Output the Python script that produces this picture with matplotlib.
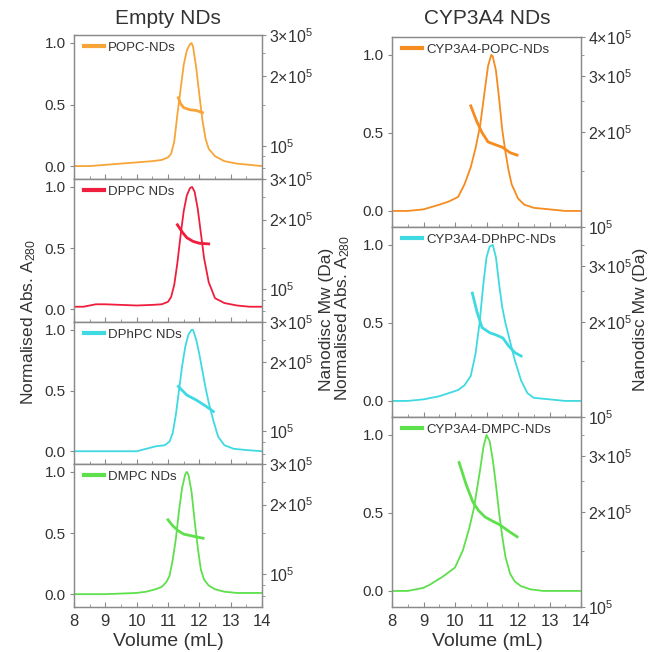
import matplotlib
matplotlib.use("Agg")
import matplotlib.pyplot as plt
from matplotlib.ticker import FixedLocator, FixedFormatter, NullFormatter, LogLocator, MultipleLocator

plt.rcParams["font.family"] = ["Liberation Sans", "DejaVu Sans"]
plt.rcParams["mathtext.fontset"] = "custom"
plt.rcParams["mathtext.rm"] = "Liberation Sans"
plt.rcParams["mathtext.it"] = "Liberation Sans:italic"

TEXT = "#333333"
SPINE = "#8a8a8a"

# Empty nanodiscs: normalised A280 traces and nanodisc Mw (Da)
popc_vol = [8.0, 8.5, 9.0, 9.5, 10.0, 10.5, 10.8, 11.0, 11.1, 11.2, 11.3, 11.4, 11.5,
            11.6, 11.7, 11.75, 11.8, 11.9, 12.0, 12.1, 12.2, 12.3, 12.5, 12.8, 13.2, 13.6, 14.0]
popc_abs = [0.0, 0.0, 0.01, 0.02, 0.03, 0.04, 0.05, 0.07, 0.1, 0.2, 0.42, 0.62, 0.82,
            0.94, 0.99, 1.0, 0.97, 0.8, 0.58, 0.37, 0.22, 0.14, 0.08, 0.04, 0.02, 0.01, 0.0]
popc_mw_vol = [11.33, 11.4, 11.5, 11.7, 11.9, 12.1]
popc_mw = [1.61e5, 1.52e5, 1.46e5, 1.43e5, 1.42e5, 1.39e5]

dppc_vol = [8.0, 8.3, 8.7, 9.0, 9.5, 10.0, 10.5, 10.8, 11.0, 11.1, 11.2, 11.3, 11.4, 11.5,
            11.6, 11.7, 11.77, 11.85, 11.95, 12.05, 12.15, 12.3, 12.5, 12.8, 13.2, 13.6, 14.0]
dppc_abs = [0.02, 0.02, 0.04, 0.04, 0.035, 0.03, 0.035, 0.04, 0.06, 0.1, 0.2, 0.38, 0.6, 0.8,
            0.93, 0.99, 1.0, 0.96, 0.82, 0.62, 0.42, 0.22, 0.09, 0.05, 0.03, 0.02, 0.02]
dppc_mw_vol = [11.3, 11.45, 11.6, 11.8, 12.0, 12.3]
dppc_mw = [1.9e5, 1.77e5, 1.67e5, 1.61e5, 1.58e5, 1.57e5]

dphpc_vol = [8.0, 9.0, 10.0, 10.3, 10.6, 10.9, 11.05, 11.15, 11.25, 11.35, 11.45, 11.55, 11.65,
             11.75, 11.8, 11.9, 12.0, 12.1, 12.2, 12.3, 12.45, 12.6, 12.8, 13.1, 13.5, 14.0]
dphpc_abs = [0.0, 0.0, 0.0, 0.02, 0.04, 0.05, 0.08, 0.15, 0.3, 0.5, 0.7, 0.86, 0.96,
             1.0, 1.0, 0.92, 0.8, 0.66, 0.52, 0.4, 0.25, 0.12, 0.05, 0.02, 0.01, 0.0]
dphpc_mw_vol = [11.33, 11.6, 11.9, 12.2, 12.45]
dphpc_mw = [1.57e5, 1.44e5, 1.37e5, 1.29e5, 1.22e5]

dmpc_vol = [8.0, 9.0, 10.0, 10.3, 10.6, 10.8, 10.95, 11.05, 11.15, 11.25, 11.35, 11.45, 11.55,
            11.6, 11.65, 11.75, 11.85, 11.95, 12.05, 12.15, 12.3, 12.5, 12.8, 13.2, 14.0]
dmpc_abs = [0.0, 0.0, 0.01, 0.02, 0.04, 0.06, 0.1, 0.15, 0.28, 0.45, 0.68, 0.87, 0.98,
            1.0, 0.98, 0.84, 0.6, 0.38, 0.2, 0.12, 0.07, 0.04, 0.02, 0.01, 0.01]
dmpc_mw_vol = [11.0, 11.15, 11.33, 11.5, 11.8, 12.12]
dmpc_mw = [1.72e5, 1.62e5, 1.54e5, 1.49e5, 1.46e5, 1.43e5]

# CYP3A4-loaded nanodiscs
cyp_popc_vol = [8.0, 8.5, 9.0, 9.5, 9.8, 10.1, 10.3, 10.5, 10.65, 10.8, 10.95, 11.05, 11.15,
                11.2, 11.3, 11.4, 11.5, 11.6, 11.7, 11.8, 12.0, 12.2, 12.5, 13.0, 13.5, 14.0]
cyp_popc_abs = [0.0, 0.0, 0.01, 0.04, 0.06, 0.09, 0.17, 0.28, 0.4, 0.55, 0.78, 0.93, 1.0,
                0.99, 0.9, 0.72, 0.52, 0.38, 0.26, 0.17, 0.08, 0.04, 0.02, 0.01, 0.0, 0.0]
cyp_popc_mw_vol = [10.5, 10.7, 10.86, 11.05, 11.3, 11.5, 11.75, 11.97]
cyp_popc_mw = [2.42e5, 2.15e5, 1.99e5, 1.86e5, 1.82e5, 1.79e5, 1.72e5, 1.69e5]

cyp_dphpc_vol = [8.0, 8.5, 9.0, 9.5, 9.8, 10.1, 10.3, 10.5, 10.65, 10.78, 10.9, 11.0, 11.1,
                 11.2, 11.3, 11.4, 11.5, 11.6, 11.75, 11.9, 12.1, 12.3, 12.5, 13.0, 13.5, 14.0]
cyp_dphpc_abs = [0.0, 0.0, 0.01, 0.03, 0.05, 0.07, 0.1, 0.16, 0.3, 0.5, 0.75, 0.92, 0.99,
                 1.0, 0.92, 0.75, 0.6, 0.5, 0.38, 0.26, 0.13, 0.05, 0.02, 0.01, 0.0, 0.0]
cyp_dphpc_mw_vol = [10.55, 10.7, 10.86, 11.1, 11.3, 11.52, 11.7, 11.9, 12.1]
cyp_dphpc_mw = [2.47e5, 2.15e5, 1.92e5, 1.85e5, 1.82e5, 1.78e5, 1.68e5, 1.6e5, 1.56e5]

cyp_dmpc_vol = [8.0, 8.5, 9.0, 9.2, 9.6, 10.0, 10.25, 10.45, 10.6, 10.8, 10.9, 11.0, 11.1,
                11.2, 11.3, 11.4, 11.5, 11.6, 11.75, 11.9, 12.1, 12.4, 12.8, 13.5, 14.0]
cyp_dmpc_abs = [0.0, 0.0, 0.02, 0.04, 0.09, 0.15, 0.26, 0.4, 0.53, 0.78, 0.92, 1.0, 0.96,
                0.84, 0.68, 0.5, 0.35, 0.22, 0.11, 0.06, 0.03, 0.01, 0.0, 0.0, 0.0]
cyp_dmpc_mw_vol = [10.13, 10.35, 10.57, 10.75, 10.95, 11.2, 11.43, 11.7, 11.97]
cyp_dmpc_mw = [2.87e5, 2.45e5, 2.15e5, 2.02e5, 1.93e5, 1.87e5, 1.82e5, 1.74e5, 1.67e5]

left_labels = ["POPC-NDs", "DPPC NDs", "DPhPC NDs", "DMPC NDs"]
right_labels = ["CYP3A4-POPC-NDs", "CYP3A4-DPhPC-NDs", "CYP3A4-DMPC-NDs"]

ORANGE_L = "#f7a538"
ORANGE_R = "#f68b1f"
RED = "#ee1e3c"
CYAN = "#3fd9e2"
GREEN = "#5ee04c"

left_panels = [
    (popc_vol, popc_abs, popc_mw_vol, popc_mw, ORANGE_L),
    (dppc_vol, dppc_abs, dppc_mw_vol, dppc_mw, RED),
    (dphpc_vol, dphpc_abs, dphpc_mw_vol, dphpc_mw, CYAN),
    (dmpc_vol, dmpc_abs, dmpc_mw_vol, dmpc_mw, GREEN),
]
right_panels = [
    (cyp_popc_vol, cyp_popc_abs, cyp_popc_mw_vol, cyp_popc_mw, ORANGE_R),
    (cyp_dphpc_vol, cyp_dphpc_abs, cyp_dphpc_mw_vol, cyp_dphpc_mw, CYAN),
    (cyp_dmpc_vol, cyp_dmpc_abs, cyp_dmpc_mw_vol, cyp_dmpc_mw, GREEN),
]

W, H = 654, 652
fig = plt.figure(figsize=(W / 100, H / 100), dpi=100)


def px_axes(x0, x1, y0, y1):
    """Add axes using pixel edges measured from the top-left corner."""
    return fig.add_axes([x0 / W, 1 - y1 / H, (x1 - x0) / W, (y1 - y0) / H])


def style_axes(ax, ax2, show_x):
    for a in (ax, ax2):
        for s in a.spines.values():
            s.set_color(SPINE)
            s.set_linewidth(0.9)
    ax.set_xlim(8, 14)
    ax.xaxis.set_major_locator(MultipleLocator(1))
    ax.xaxis.set_minor_locator(MultipleLocator(0.5))
    ax.tick_params(axis="x", which="both", direction="in", color=SPINE, top=False)
    ax.tick_params(axis="x", which="major", length=3.5, labelsize=12, labelcolor=TEXT, pad=5)
    ax.tick_params(axis="x", which="minor", length=2)
    if not show_x:
        ax.tick_params(axis="x", labelbottom=False)
    ax.set_yticks([0.0, 0.5, 1.0])
    ax.set_yticklabels(["0.0", "0.5", "1.0"])
    ax.tick_params(axis="y", direction="out", length=3, color=SPINE,
                   labelsize=11, labelcolor=TEXT, pad=3)
    ax2.tick_params(axis="y", which="major", direction="out", length=3, color=SPINE,
                    labelsize=11.5, labelcolor=TEXT, pad=2)
    ax2.tick_params(axis="y", which="minor", direction="out", length=1.8, color=SPINE)


def draw_panel(ax, panel, label, mw_lim, mw_ticks, mw_labels, show_x):
    vol, ab, mw_vol, mw, color = panel
    line, = ax.plot(vol, ab, color=color, lw=1.3)
    ax2 = ax.twinx()
    ax2.plot(mw_vol, mw, color=color, lw=2.0)
    ax2.set_yscale("log")
    ax2.set_ylim(*mw_lim)
    ax2.yaxis.set_major_locator(FixedLocator(mw_ticks))
    ax2.yaxis.set_major_formatter(FixedFormatter(mw_labels))
    ax2.yaxis.set_minor_locator(LogLocator(base=10, subs=[1, 1.5, 2, 2.5, 3, 3.5, 4, 5, 6, 7, 8, 9]))
    ax2.yaxis.set_minor_formatter(NullFormatter())
    style_axes(ax, ax2, show_x)
    leg = ax.legend([line], [label], loc="upper left", frameon=False, fontsize=9.5,
                    handlelength=1.5, handletextpad=0.3, borderaxespad=0.1,
                    bbox_to_anchor=(0.02, 1.0))
    leg.legend_handles[0].set_linewidth(3)
    for t in leg.get_texts():
        t.set_color(TEXT)
    return ax2


# Left column: empty nanodiscs, four stacked panels
left_edges = [(35, 179), (179, 322), (322, 464), (464, 607)]
for i, (panel, label, (y0, y1)) in enumerate(zip(left_panels, left_labels, left_edges)):
    ax = px_axes(74, 262, y0, y1)
    ax.set_ylim(-0.105, 1.065)
    draw_panel(ax, panel, label, (7.2e4, 3e5), [1e5, 2e5, 3e5],
               [r"$10^{5}$", r"$2{\times}10^{5}$", r"$3{\times}10^{5}$"],
               show_x=(i == len(left_panels) - 1))

# Right column: CYP3A4 nanodiscs, three stacked panels
right_edges = [(37, 227), (227, 417), (417, 607)]
for i, (panel, label, (y0, y1)) in enumerate(zip(right_panels, right_labels, right_edges)):
    ax = px_axes(392, 581, y0, y1)
    ax.set_ylim(-0.103, 1.115)
    if i == 0:
        ticks = [1e5, 2e5, 3e5, 4e5]
        labels = [r"$10^{5}$", r"$2{\times}10^{5}$", r"$3{\times}10^{5}$", r"$4{\times}10^{5}$"]
    else:
        ticks = [1e5, 2e5, 3e5]
        labels = [r"$10^{5}$", r"$2{\times}10^{5}$", r"$3{\times}10^{5}$"]
    draw_panel(ax, panel, label, (1e5, 4e5), ticks, labels,
               show_x=(i == len(right_panels) - 1))

# Column titles and shared axis labels
fig.text(168 / W, 1 - 19 / H, "Empty NDs", ha="center", va="center", fontsize=15, color=TEXT)
fig.text(487 / W, 1 - 19 / H, "CYP3A4 NDs", ha="center", va="center", fontsize=15, color=TEXT)
fig.text(168 / W, 1 - 641 / H, "Volume (mL)", ha="center", va="center", fontsize=14, color=TEXT)
fig.text(487 / W, 1 - 641 / H, "Volume (mL)", ha="center", va="center", fontsize=14, color=TEXT)

abs_label = r"Normalised Abs. A$_{280}$"
mw_label = "Nanodisc Mw (Da)"
fig.text(29 / W, 1 - 322 / H, abs_label, rotation=90, ha="center", va="center",
         fontsize=12.5, color=TEXT)
fig.text(327 / W, 1 - 319 / H, mw_label, rotation=90, ha="center", va="center",
         fontsize=12.5, color=TEXT)
fig.text(343 / W, 1 - 318 / H, abs_label, rotation=90, ha="center", va="center",
         fontsize=12.5, color=TEXT)
fig.text(641 / W, 1 - 319 / H, mw_label, rotation=90, ha="center", va="center",
         fontsize=12.5, color=TEXT)

fig.savefig("out.png", dpi=100)
